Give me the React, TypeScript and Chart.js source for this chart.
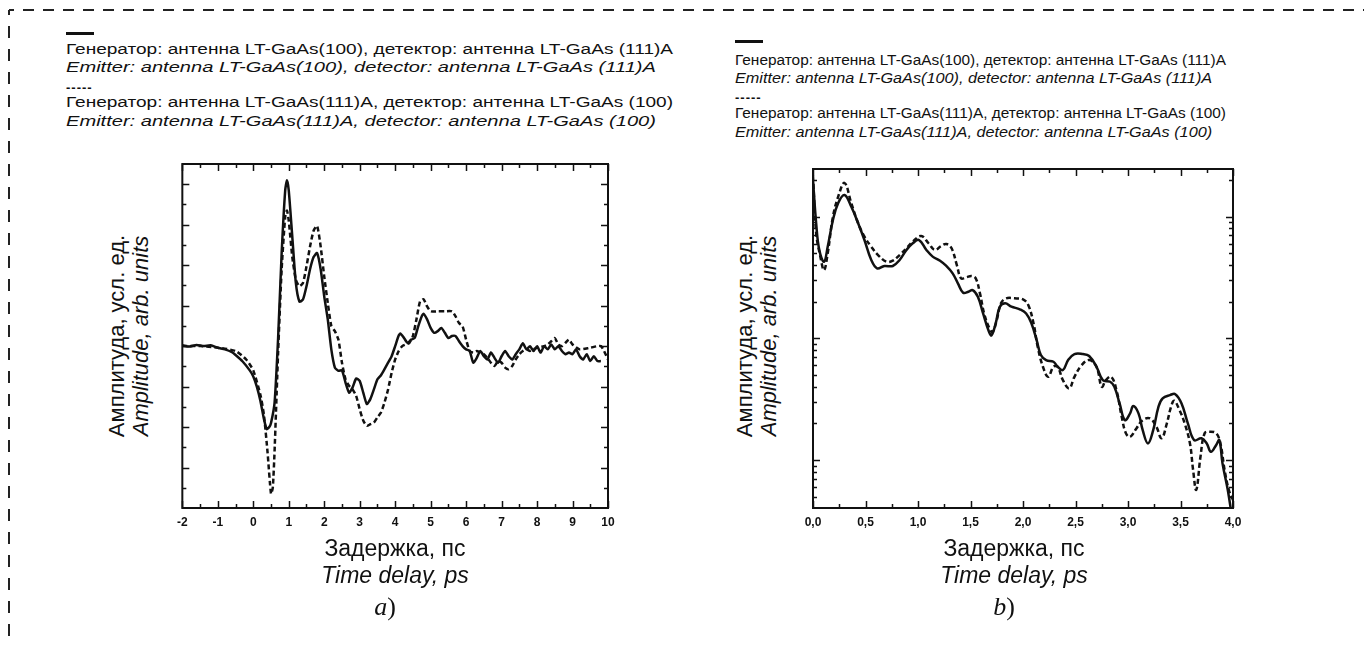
import React, { useEffect, useRef } from 'react';
import { Chart, registerables } from 'chart.js';

Chart.register(...registerables);

const SANS = '"Liberation Sans", Arial, sans-serif';
const SERIF = '"Liberation Serif", "Times New Roman", serif';
const INK = '#111';

// ---------- Panel a: time-domain waveforms ----------
const aSolidX = [-2, -1.8, -1.6, -1.4, -1.2, -1, -0.8, -0.6, -0.5, -0.3, -0.1, 0, 0.1, 0.2, 0.3, 0.38, 0.45, 0.5, 0.6, 0.7, 0.8, 0.9, 0.95, 1, 1.1, 1.2, 1.3, 1.4, 1.5, 1.6, 1.7, 1.8, 1.9, 2, 2.1, 2.2, 2.3, 2.4, 2.5, 2.6, 2.7, 2.8, 2.9, 3, 3.1, 3.2, 3.3, 3.4, 3.5, 3.6, 3.7, 3.8, 3.9, 4, 4.1, 4.15, 4.25, 4.35, 4.45, 4.55, 4.65, 4.75, 4.8, 4.9, 5, 5.1, 5.2, 5.3, 5.4, 5.5, 5.6, 5.7, 5.8, 5.9, 6, 6.1, 6.2, 6.3, 6.4, 6.5, 6.6, 6.7, 6.8, 6.9, 7, 7.1, 7.2, 7.3, 7.4, 7.5, 7.6, 7.7, 7.8, 7.9, 8, 8.1, 8.2, 8.3, 8.4, 8.5, 8.6, 8.7, 8.8, 8.9, 9, 9.1, 9.2, 9.3, 9.4, 9.5, 9.6, 9.7, 9.8];
const aSolidY = [0.02, -0.01, 0.03, 0, 0.02, -0.04, -0.08, -0.15, -0.22, -0.38, -0.6, -0.75, -1.0, -1.35, -1.8, -2.05, -2.0, -1.9, -1.4, 0.2, 2.3, 3.85, 4.1, 3.85, 2.7, 1.56, 1.1, 1.15, 1.48, 1.9, 2.2, 2.3, 1.9, 1.23, 0.66, -0.08, -0.53, -0.61, -0.6, -0.9, -1.15, -1.02, -0.8, -0.86, -1.15, -1.43, -1.31, -1.07, -0.82, -0.72, -0.57, -0.41, -0.25, 0, 0.26, 0.31, 0.2, 0.08, 0.16, 0.2, 0.49, 0.74, 0.8, 0.66, 0.45, 0.33, 0.37, 0.45, 0.33, 0.2, 0.25, 0.25, 0.12, 0, -0.08, -0.12, -0.41, -0.29, -0.12, -0.25, -0.33, -0.16, -0.29, -0.41, -0.25, -0.12, -0.25, -0.33, -0.2, -0.08, 0.07, -0.08, 0, -0.12, 0, -0.16, 0, -0.08, 0.04, -0.08, 0, -0.12, -0.2, -0.16, -0.2, -0.08, -0.25, -0.33, -0.2, -0.37, -0.25, -0.37, -0.37];

const aDashX = [-2, -1.5, -1, -0.5, -0.2, 0, 0.2, 0.3, 0.4, 0.5, 0.55, 0.6, 0.7, 0.8, 0.9, 0.95, 1, 1.1, 1.2, 1.3, 1.4, 1.5, 1.6, 1.7, 1.8, 1.9, 2, 2.1, 2.2, 2.3, 2.4, 2.5, 2.6, 2.7, 2.8, 2.9, 3, 3.1, 3.2, 3.3, 3.4, 3.5, 3.6, 3.7, 3.8, 3.9, 4, 4.1, 4.2, 4.3, 4.4, 4.5, 4.6, 4.7, 4.8, 4.9, 5, 5.2, 5.4, 5.6, 5.7, 5.8, 5.9, 6, 6.1, 6.2, 6.3, 6.4, 6.5, 6.6, 6.7, 6.8, 6.9, 7, 7.1, 7.2, 7.3, 7.4, 7.5, 7.6, 7.7, 7.8, 7.9, 8, 8.2, 8.3, 8.4, 8.5, 8.6, 8.7, 8.8, 8.9, 9, 9.2, 9.5, 9.8, 10];
const aDashY = [0, 0, -0.04, -0.12, -0.33, -0.6, -1.2, -1.7, -2.6, -3.65, -3.5, -2.6, -0.16, 1.9, 3.2, 3.35, 3.1, 2.2, 1.64, 1.48, 1.56, 1.97, 2.46, 2.85, 2.97, 2.46, 1.72, 1.07, 0.5, 0.37, 0.16, -0.41, -0.82, -0.98, -1.07, -1.23, -1.56, -1.84, -1.97, -1.93, -1.89, -1.76, -1.64, -1.39, -1.07, -0.66, -0.33, -0.12, 0, 0.04, 0.08, 0.25, 0.66, 1.1, 1.16, 0.98, 0.86, 0.86, 0.86, 0.86, 0.74, 0.57, 0.49, 0.16, -0.12, -0.16, -0.12, -0.16, -0.2, -0.29, -0.41, -0.49, -0.37, -0.41, -0.53, -0.57, -0.49, -0.33, -0.2, -0.12, -0.08, -0.12, -0.08, -0.04, 0, 0.04, 0.12, 0.2, 0.04, 0, 0.08, 0.16, 0.04, -0.08, -0.04, 0, -0.33];

const aXTicks = [-2, -1, 0, 1, 2, 3, 4, 5, 6, 7, 8, 9, 10];
const aXTickLabels = ['-2', '-1', '0', '1', '2', '3', '4', '5', '6', '7', '8', '9', '10'];
const aXMinor = [-1.5, -0.5, 0.5, 1.5, 2.5, 3.5, 4.5, 5.5, 6.5, 7.5, 8.5, 9.5];
const aYMajor = [-3, -2, -1, 0, 1, 2, 3, 4];
const aYMinor = [-3.5, -2.5, -1.5, -0.5, 0.5, 1.5, 2.5, 3.5];

// ---------- Panel b: log-scale amplitude ----------
const bSolidX = [0, 0.03, 0.06, 0.105, 0.14, 0.19, 0.24, 0.3, 0.365, 0.43, 0.49, 0.555, 0.61, 0.68, 0.76, 0.825, 0.89, 0.95, 1.01, 1.08, 1.14, 1.21, 1.27, 1.33, 1.38, 1.43, 1.48, 1.52, 1.57, 1.62, 1.67, 1.7, 1.74, 1.78, 1.83, 1.89, 1.97, 2.03, 2.08, 2.13, 2.17, 2.22, 2.29, 2.33, 2.38, 2.43, 2.49, 2.57, 2.63, 2.7, 2.76, 2.83, 2.87, 2.92, 2.97, 3.02, 3.05, 3.1, 3.14, 3.19, 3.24, 3.29, 3.33, 3.4, 3.45, 3.51, 3.57, 3.63, 3.7, 3.75, 3.79, 3.84, 3.87, 3.9, 3.95, 4.0];
const bSolidY = [199, 88.6, 53.2, 42.6, 56.6, 93.8, 129.4, 150.4, 120.6, 88.1, 64.2, 44.0, 37.6, 39.3, 39.3, 44.0, 53.2, 60.4, 64.2, 53.2, 46.9, 43.4, 39.3, 34.2, 28.3, 23.7, 24.1, 24.9, 22.0, 16.0, 11.7, 10.6, 13.3, 18.2, 19.4, 18.2, 17.3, 16.0, 13.3, 9.68, 7.29, 6.63, 6.42, 5.84, 5.49, 6.63, 7.43, 7.43, 7.16, 5.84, 4.54, 4.40, 4.00, 2.92, 2.13, 2.42, 2.78, 2.42, 1.76, 1.37, 1.76, 2.74, 3.21, 3.42, 3.48, 2.92, 2.0, 1.46, 1.51, 1.37, 1.17, 1.33, 1.46, 0.94, 0.57, 0.3];

const bDashX = [0, 0.03, 0.07, 0.105, 0.14, 0.19, 0.24, 0.3, 0.365, 0.43, 0.49, 0.555, 0.62, 0.7, 0.76, 0.825, 0.89, 0.95, 1.03, 1.1, 1.16, 1.22, 1.27, 1.32, 1.37, 1.41, 1.46, 1.51, 1.55, 1.59, 1.63, 1.68, 1.71, 1.75, 1.79, 1.84, 1.92, 2.0, 2.05, 2.1, 2.14, 2.19, 2.24, 2.29, 2.33, 2.38, 2.44, 2.49, 2.56, 2.63, 2.7, 2.75, 2.79, 2.84, 2.89, 2.94, 2.98, 3.02, 3.08, 3.14, 3.21, 3.27, 3.32, 3.37, 3.41, 3.44, 3.49, 3.54, 3.59, 3.62, 3.65, 3.69, 3.73, 3.78, 3.84, 3.88, 3.92, 3.96, 4.0];
const bDashY = [216, 73.3, 46.9, 36.4, 49.9, 99.8, 145.8, 188.8, 128.6, 88.1, 68.4, 56.6, 48.3, 42.6, 43.4, 48.3, 54.9, 62.2, 69.3, 60.4, 53.2, 57.3, 59.6, 54.9, 40.0, 31.1, 31.7, 32.5, 31.1, 23.4, 16.0, 12.1, 11.3, 14.1, 19.4, 21.3, 21.3, 20.9, 18.8, 13.3, 8.53, 5.84, 4.83, 5.84, 5.84, 4.54, 3.88, 4.83, 6.04, 6.63, 5.84, 4.0, 4.54, 4.83, 3.76, 2.27, 1.66, 1.55, 1.82, 2.13, 2.2, 1.88, 1.51, 2.0, 2.74, 3.07, 2.58, 2.0, 1.37, 0.83, 0.57, 1.06, 1.66, 1.71, 1.66, 1.37, 0.83, 0.57, 0.47];

const bXTicks = [0, 0.5, 1, 1.5, 2, 2.5, 3, 3.5, 4];
const bXTickLabels = ['0,0', '0,5', '1,0', '1,5', '2,0', '2,5', '3,0', '3,5', '4,0'];
const bXMinor = [0.25, 0.75, 1.25, 1.75, 2.25, 2.75, 3.25, 3.75];
const bYMajor = [1, 10, 100];
const bYMinor = [0.5, 0.6, 0.7, 0.8, 0.9, 2, 3, 4, 5, 6, 7, 8, 9, 20, 30, 40, 50, 60, 70, 80, 90, 200];

const legendRu1 = 'Генератор: антенна LT-GaAs(100), детектор: антенна LT-GaAs (111)A';
const legendEn1 = 'Emitter: antenna LT-GaAs(100), detector: antenna LT-GaAs (111)A';
const legendRu2 = 'Генератор: антенна LT-GaAs(111)A, детектор: антенна LT-GaAs (100)';
const legendEn2 = 'Emitter: antenna LT-GaAs(111)A, detector: antenna LT-GaAs (100)';

type FrameCfg = { xMajor: number[]; xMinor: number[]; yMajor: number[]; yMinor: number[]; majorLen: number; minorLen: number };

function makeFrame(cfg: FrameCfg) {
  return {
    id: 'frame',
    afterDatasetsDraw(chart: any) {
      const { ctx, chartArea } = chart;
      const { left, right, top, bottom } = chartArea;
      const xs = chart.scales.x;
      const ys = chart.scales.y;
      ctx.save();
      ctx.strokeStyle = INK;
      ctx.lineWidth = 1.5;
      ctx.beginPath();
      const xt = (vals: number[], len: number) => {
        for (const v of vals) {
          const p = Math.round(xs.getPixelForValue(v)) + 0.5;
          ctx.moveTo(p, bottom); ctx.lineTo(p, bottom - len);
          ctx.moveTo(p, top); ctx.lineTo(p, top + len);
        }
      };
      const yt = (vals: number[], len: number) => {
        for (const v of vals) {
          const p = Math.round(ys.getPixelForValue(v)) + 0.5;
          ctx.moveTo(left, p); ctx.lineTo(left + len, p);
          ctx.moveTo(right, p); ctx.lineTo(right - len, p);
        }
      };
      xt(cfg.xMajor, cfg.majorLen);
      xt(cfg.xMinor, cfg.minorLen);
      yt(cfg.yMajor, cfg.majorLen);
      yt(cfg.yMinor, cfg.minorLen);
      ctx.stroke();
      ctx.lineWidth = 2;
      ctx.strokeRect(left, top, right - left, bottom - top);
      ctx.restore();
    },
  };
}

type PanelCfg = {
  solidX: number[]; solidY: number[]; dashX: number[]; dashY: number[];
  xMin: number; xMax: number; xTicks: number[]; xLabels: string[];
  yType: 'linear' | 'logarithmic'; yMin: number; yMax: number;
  tension: number; padding: { left: number; right: number; top: number; bottom: number };
  xAxisHeight: number; frame: FrameCfg;
};

function buildConfig(p: PanelCfg): any {
  return {
    type: 'line',
    data: {
      datasets: [
        {
          data: p.solidX.map((x, i) => ({ x, y: p.solidY[i] })),
          borderColor: INK, borderWidth: 2.5, pointRadius: 0, tension: p.tension, fill: false,
        },
        {
          data: p.dashX.map((x, i) => ({ x, y: p.dashY[i] })),
          borderColor: INK, borderWidth: 2.5, borderDash: [5, 3], pointRadius: 0, tension: p.tension, fill: false,
        },
      ],
    },
    options: {
      responsive: false,
      animation: false,
      events: [],
      layout: { padding: p.padding },
      plugins: { legend: { display: false }, tooltip: { enabled: false } },
      scales: {
        x: {
          type: 'linear', min: p.xMin, max: p.xMax,
          grid: { display: false, drawTicks: false },
          border: { display: false },
          ticks: {
            autoSkip: false, maxRotation: 0, padding: 7, color: INK,
            font: { family: SANS, size: 12, weight: 'bold' },
            callback: (_v: any, i: number) => p.xLabels[i],
          },
          afterBuildTicks: (s: any) => { s.ticks = p.xTicks.map((v) => ({ value: v })); },
          afterFit: (s: any) => { s.height = p.xAxisHeight; },
        },
        y: { type: p.yType, min: p.yMin, max: p.yMax, display: false },
      },
    },
    plugins: [makeFrame(p.frame)],
  };
}

function ChartBox({ left, top, width, height, cfg }: { left: number; top: number; width: number; height: number; cfg: PanelCfg }) {
  const ref = useRef<HTMLCanvasElement>(null);
  useEffect(() => {
    const chart = new Chart(ref.current as HTMLCanvasElement, buildConfig(cfg));
    return () => chart.destroy();
  }, []);
  return (
    <div style={{ position: 'absolute', left, top, width, height }}>
      <canvas ref={ref} width={width} height={height} style={{ display: 'block', width, height }} />
    </div>
  );
}

const abs = (left: number, top: number, extra: React.CSSProperties = {}): React.CSSProperties => ({
  position: 'absolute', left, top, whiteSpace: 'nowrap', fontFamily: SANS, color: INK, ...extra,
});

function LegendBlock({ left, tops, size, stretch }: { left: number; tops: number[]; size: number; stretch: number }) {
  const lh = 18;
  const t: React.CSSProperties = { fontSize: size, lineHeight: `${lh}px`, transform: `scaleX(${stretch})`, transformOrigin: 'left center' };
  const ti: React.CSSProperties = { ...t, fontStyle: 'italic', transform: `scaleX(${stretch * 1.055})` };
  return (
    <>
      <div style={{ position: 'absolute', left, top: tops[0] - 1, width: 28, height: 3, background: INK }} />
      <div style={abs(left, tops[1] - lh / 2, t)}>{legendRu1}</div>
      <div style={abs(left, tops[2] - lh / 2, ti)}>{legendEn1}</div>
      <div style={abs(left, tops[3] - 8, { fontSize: 13, lineHeight: '14px', fontWeight: 'bold', letterSpacing: 1 })}>-----</div>
      <div style={abs(left, tops[4] - lh / 2, t)}>{legendRu2}</div>
      <div style={abs(left, tops[5] - lh / 2, ti)}>{legendEn2}</div>
    </>
  );
}

function Titles({ cx, xTitleY, yTitleX, cy, caption }: { cx: number; xTitleY: number; yTitleX: number; cy: number; caption: string }) {
  return (
    <>
      <div style={abs(cx, xTitleY, { fontSize: 23, lineHeight: '27px', textAlign: 'center', transform: 'translate(-50%, -50%)' })}>
        <div>Задержка, пс</div>
        <div style={{ fontStyle: 'italic' }}>Time delay, ps</div>
      </div>
      <div style={abs(yTitleX, cy, { fontSize: 22, lineHeight: '24px', textAlign: 'center', transform: 'translate(-50%, -50%) rotate(-90deg)' })}>
        <div>Амплитуда, усл. ед.</div>
        <div style={{ fontStyle: 'italic' }}>Amplitude, arb. units</div>
      </div>
      <div style={abs(cx - 10, 607, { fontFamily: SERIF, fontSize: 26, lineHeight: '30px', transform: 'translate(-50%, -50%)' })}>
        <i>{caption}</i>)
      </div>
    </>
  );
}

const panelA: PanelCfg = {
  solidX: aSolidX, solidY: aSolidY, dashX: aDashX, dashY: aDashY,
  xMin: -2, xMax: 10, xTicks: aXTicks, xLabels: aXTickLabels,
  yType: 'linear', yMin: -4, yMax: 4.5, tension: 0.2,
  padding: { left: 12, right: 22, top: 14, bottom: 0 }, xAxisHeight: 37,
  frame: { xMajor: aXTicks, xMinor: aXMinor, yMajor: aYMajor, yMinor: aYMinor, majorLen: 7, minorLen: 4 },
};

const panelB: PanelCfg = {
  solidX: bSolidX, solidY: bSolidY, dashX: bDashX, dashY: bDashY,
  xMin: 0, xMax: 4, xTicks: bXTicks, xLabels: bXTickLabels,
  yType: 'logarithmic', yMin: 0.404, yMax: 246, tension: 0.4,
  padding: { left: 18, right: 22, top: 19, bottom: 0 }, xAxisHeight: 37,
  frame: { xMajor: bXTicks, xMinor: bXMinor, yMajor: bYMajor, yMinor: bYMinor, majorLen: 7, minorLen: 4 },
};

export default function App() {
  return (
    <div style={{ position: 'absolute', left: 0, top: 0, width: 1364, height: 646, overflow: 'hidden', background: '#fff' }}>
      <svg width={1364} height={646} style={{ position: 'absolute', left: 0, top: 0 }}>
        <line x1={9} y1={10} x2={1364} y2={10} stroke="#222" strokeWidth={2} strokeDasharray="11 9" strokeDashoffset={6} />
        <line x1={9} y1={10} x2={9} y2={646} stroke="#222" strokeWidth={2} strokeDasharray="12 11" strokeDashoffset={7} />
      </svg>
      <LegendBlock left={66} tops={[33, 49, 67, 89, 102, 121]} size={14} stretch={1.36} />
      <LegendBlock left={735} tops={[41, 60, 78, 99, 113, 132]} size={14} stretch={1.1} />
      <ChartBox left={170} top={150} width={460} height={395} cfg={panelA} />
      <ChartBox left={795} top={150} width={460} height={395} cfg={panelB} />
      <Titles cx={395} xTitleY={562} yTitleX={129} cy={336} caption="a" />
      <Titles cx={1014} xTitleY={562} yTitleX={757} cy={336} caption="b" />
    </div>
  );
}
